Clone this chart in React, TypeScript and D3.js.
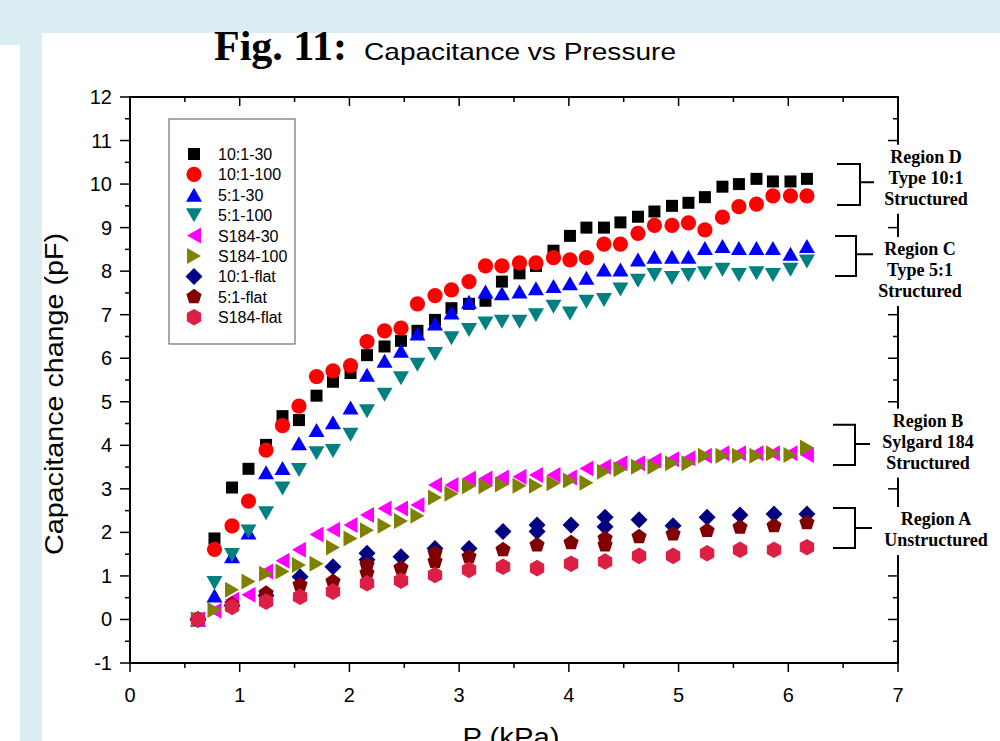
import React from 'react';
import * as d3 from 'd3';

// ---------- data ----------
const xPressure = [0.62, 0.77, 0.93, 1.08, 1.24, 1.39, 1.54, 1.70, 1.85, 2.01, 2.16, 2.32, 2.47, 2.62, 2.78, 2.93, 3.09, 3.24, 3.39, 3.55, 3.70, 3.86, 4.01, 4.16, 4.32, 4.47, 4.63, 4.78, 4.94, 5.09, 5.24, 5.40, 5.55, 5.71, 5.86, 6.02, 6.17];

const y10_1_30 = [0, 1.86, 3.03, 3.46, 4.01, 4.67, 4.58, 5.14, 5.46, 5.66, 6.07, 6.27, 6.40, 6.63, 6.88, 7.15, 7.25, 7.32, 7.76, 7.95, 8.12, 8.47, 8.81, 9.00, 9.00, 9.12, 9.25, 9.37, 9.50, 9.57, 9.70, 9.94, 10.0, 10.12, 10.06, 10.06, 10.12];
const y10_1_100 = [0, 1.61, 2.15, 2.72, 3.89, 4.45, 4.90, 5.58, 5.71, 5.83, 6.38, 6.63, 6.69, 7.25, 7.44, 7.57, 7.76, 8.12, 8.12, 8.19, 8.19, 8.31, 8.26, 8.31, 8.62, 8.62, 8.87, 9.05, 9.05, 9.11, 8.95, 9.24, 9.48, 9.54, 9.73, 9.73, 9.73];
const y5_1_30 = [0, 0.55, 1.45, 2.00, 3.38, 3.48, 4.05, 4.35, 4.53, 4.87, 5.62, 5.94, 6.17, 6.57, 6.80, 7.05, 7.30, 7.53, 7.49, 7.53, 7.61, 7.66, 7.72, 7.85, 8.04, 8.04, 8.27, 8.33, 8.33, 8.33, 8.53, 8.58, 8.53, 8.53, 8.53, 8.40, 8.58];
const y5_1_100 = [0, 0.84, 1.48, 2.02, 2.44, 3.01, 3.43, 3.82, 3.87, 4.24, 4.78, 5.16, 5.54, 5.85, 6.10, 6.46, 6.65, 6.80, 6.84, 6.84, 6.99, 7.18, 7.03, 7.30, 7.34, 7.58, 7.78, 7.91, 7.84, 7.91, 7.95, 8.03, 7.91, 7.95, 7.91, 8.03, 8.22];
const yS184_30 = [0, 0.20, 0.45, 0.57, 1.10, 1.35, 1.60, 1.95, 2.06, 2.17, 2.40, 2.55, 2.55, 2.63, 3.09, 3.09, 3.24, 3.24, 3.26, 3.28, 3.32, 3.32, 3.26, 3.47, 3.51, 3.59, 3.59, 3.65, 3.68, 3.70, 3.76, 3.82, 3.82, 3.82, 3.82, 3.82, 3.78];
const yS184_100 = [0, 0.22, 0.68, 0.87, 1.05, 1.10, 1.25, 1.28, 1.65, 1.86, 2.05, 2.15, 2.26, 2.38, 2.80, 2.89, 3.06, 3.06, 3.10, 3.07, 3.07, 3.13, 3.19, 3.14, 3.39, 3.45, 3.51, 3.51, 3.59, 3.59, 3.76, 3.76, 3.76, 3.76, 3.82, 3.78, 3.95];

const xFlat10 = [0.62, 0.93, 1.24, 1.55, 1.85, 2.16, 2.16, 2.47, 2.78, 3.09, 3.40, 3.71, 3.71, 4.02, 4.33, 4.33, 4.64, 4.95, 5.26, 5.56, 5.87, 6.17];
const yFlat10 = [0, 0.32, 0.55, 0.98, 1.21, 1.52, 1.37, 1.44, 1.63, 1.63, 2.02, 2.17, 2.02, 2.17, 2.35, 2.13, 2.29, 2.15, 2.35, 2.40, 2.42, 2.42];
const xFlat5 = [0.62, 0.93, 1.24, 1.55, 1.85, 2.16, 2.16, 2.47, 2.78, 2.78, 3.09, 3.40, 3.71, 4.02, 4.33, 4.33, 4.64, 4.95, 5.26, 5.56, 5.87, 6.17];
const yFlat5 = [0, 0.35, 0.60, 0.79, 0.87, 1.25, 1.06, 1.18, 1.52, 1.33, 1.44, 1.60, 1.71, 1.76, 1.86, 1.71, 1.90, 1.96, 2.04, 2.12, 2.15, 2.22];
const xFlatS = [0.62, 0.93, 1.24, 1.55, 1.85, 2.16, 2.47, 2.78, 3.09, 3.40, 3.71, 4.02, 4.33, 4.64, 4.95, 5.26, 5.56, 5.87, 6.17];
const yFlatS = [0, 0.29, 0.41, 0.52, 0.64, 0.83, 0.89, 1.02, 1.14, 1.21, 1.18, 1.28, 1.33, 1.46, 1.46, 1.52, 1.60, 1.60, 1.66];

const seriesLabels = ['10:1-30', '10:1-100', '5:1-30', '5:1-100', 'S184-30', 'S184-100', '10:1-flat', '5:1-flat', 'S184-flat'];
const seriesColors = ['#000000', '#ff0000', '#0000ff', '#008080', '#ff00ff', '#808000', '#000080', '#800000', '#dc1f45'];
const seriesShapes = ['square', 'circle', 'up', 'down', 'left', 'right', 'diamond', 'pentagon', 'hexagon'];

const xTicks = [0, 1, 2, 3, 4, 5, 6, 7];
const yTicks = [-1, 0, 1, 2, 3, 4, 5, 6, 7, 8, 9, 10, 11, 12];

const regionLines = [
  ['Region D', 'Type 10:1', 'Structured'],
  ['Region C', 'Type 5:1', 'Structured'],
  ['Region B', 'Sylgard 184', 'Structured'],
  ['Region A', 'Unstructured'],
];
const regionTop = [10.46, 8.81, 4.47, 2.56];
const regionBottom = [9.52, 7.89, 3.55, 1.64];
const regionMid = [10.04, 8.39, 4.03, 2.10];
const regionTextY = [10.49, 8.37, 4.43, 2.17];

// ---------- helpers ----------
function poly(n: number, r: number, rot: number) {
  const pts: string[] = [];
  for (let i = 0; i < n; i++) {
    const a = rot + (i * 2 * Math.PI) / n;
    pts.push(`${(r * Math.cos(a)).toFixed(2)},${(r * Math.sin(a)).toFixed(2)}`);
  }
  return 'M' + pts.join('L') + 'Z';
}

function shapePath(shape: string): string {
  switch (shape) {
    case 'square': return 'M-6,-6L6,-6L6,6L-6,6Z';
    case 'circle': return d3.symbol(d3.symbolCircle, Math.PI * 7.6 * 7.6)() as string;
    case 'up': return 'M0,-7L8,7L-8,7Z';
    case 'down': return 'M0,7L8,-7L-8,-7Z';
    case 'left': return 'M-7,0L7,-8L7,8Z';
    case 'right': return 'M7,0L-7,-8L-7,8Z';
    case 'diamond': return 'M0,-8.5L8.5,0L0,8.5L-8.5,0Z';
    case 'pentagon': return poly(5, 8, -Math.PI / 2);
    case 'hexagon': return poly(6, 8.3, -Math.PI / 2);
  }
  return '';
}

export default function App() {
  const W = 1000, H = 741;
  const left = 130, right = 898, top = 97, bottom = 663;
  const x = d3.scaleLinear().domain([0, 7]).range([left, right]);
  const y = d3.scaleLinear().domain([-1, 12]).range([bottom, top]);

  const seriesX = [xPressure, xPressure, xPressure, xPressure, xPressure, xPressure, xFlat10, xFlat5, xFlatS];
  const seriesY = [y10_1_30, y10_1_100, y5_1_30, y5_1_100, yS184_30, yS184_100, yFlat10, yFlat5, yFlatS];

  const xMinor = d3.range(0, 7.01, 0.5);
  const yMinor = d3.range(-1, 12.01, 0.5);
  const isMajor = (v: number) => Math.abs(v - Math.round(v)) < 1e-6;

  const sans = "'Liberation Sans', Arial, Helvetica, sans-serif";
  const serif = "'Liberation Serif', 'Times New Roman', serif";

  const legX = 169, legY = 119, legW = 126, legH = 225;
  const legRow0 = 154, legStep = 20.4;

  // [bracket left, bracket vertical, mid tick end, text centre, box left, box width]
  const bracketXs = [[837, 860, 874, 926, 878, 98], [835, 856, 873, 920, 876, 96], [833, 855, 870, 928, 876, 108], [833, 855, 872, 936, 877, 120]];

  return (
    <div style={{ position: 'absolute', left: 0, top: 0 }}>
      <svg width={W} height={H} xmlns="http://www.w3.org/2000/svg" style={{ display: 'block' }}>
        <rect x={0} y={0} width={W} height={H} fill="#dbecf3" />
        <rect x={42} y={33} width={W - 42} height={H - 33} fill="#ffffff" />
        <rect x={0} y={45} width={20} height={H - 45} fill="#ffffff" />

        {/* title */}
        <text x={214} y={60} fontFamily={serif} fontWeight="bold" fontSize={42} fill="#000">Fig. 11:</text>
        <text x={364} y={60} fontFamily={sans} fontSize={24} fill="#000" textLength={312} lengthAdjust="spacingAndGlyphs">Capacitance vs Pressure</text>

        {/* ticks */}
        <g stroke="#000" strokeWidth={1.5}>
          {xMinor.map((v, i) => {
            const len = isMajor(v) ? 9 : 5;
            return (
              <g key={'xt' + i}>
                <line x1={x(v)} x2={x(v)} y1={bottom} y2={bottom + len} />
                <line x1={x(v)} x2={x(v)} y1={top} y2={top + len} />
              </g>
            );
          })}
          {yMinor.map((v, i) => {
            const len = isMajor(v) ? 10 : 5;
            return (
              <g key={'yt' + i}>
                <line x1={left - len} x2={left} y1={y(v)} y2={y(v)} />
                <line x1={right - len} x2={right} y1={y(v)} y2={y(v)} />
              </g>
            );
          })}
        </g>

        {/* frame */}
        <rect x={left} y={top} width={right - left} height={bottom - top} fill="none" stroke="#000" strokeWidth={2} />

        {/* tick labels */}
        {xTicks.map((v) => (
          <text key={'xl' + v} x={x(v)} y={702} textAnchor="middle" fontFamily={sans} fontSize={20} fill="#000">{v}</text>
        ))}
        {yTicks.map((v) => (
          <text key={'yl' + v} x={112} y={y(v) + 7} textAnchor="end" fontFamily={sans} fontSize={20} fill="#000">{v}</text>
        ))}

        {/* axis titles */}
        <text x={511} y={746} textAnchor="middle" fontFamily={sans} fontSize={25} fill="#000" textLength={97} lengthAdjust="spacingAndGlyphs">P (kPa)</text>
        <text transform={`translate(63,394) rotate(-90)`} textAnchor="middle" fontFamily={sans} fontSize={25} fill="#000" textLength={322} lengthAdjust="spacingAndGlyphs">Capacitance change (pF)</text>

        {/* data */}
        {seriesLabels.map((lab, s) => (
          <g key={'s' + s} fill={seriesColors[s]}>
            {seriesX[s].map((xv, i) => (
              <path key={i} d={shapePath(seriesShapes[s])} transform={`translate(${x(xv)},${y(seriesY[s][i])})`} />
            ))}
          </g>
        ))}

        {/* legend */}
        <rect x={legX} y={legY} width={legW} height={legH} fill="#fff" stroke="#555" strokeWidth={1} />
        {seriesLabels.map((lab, s) => (
          <g key={'lg' + s}>
            <path d={shapePath(seriesShapes[s])} fill={seriesColors[s]} transform={`translate(194,${legRow0 + s * legStep})`} />
            <text x={218} y={legRow0 + s * legStep + 6} fontFamily={sans} fontSize={16} fill="#000">{lab}</text>
          </g>
        ))}

        {/* region annotations */}
        {regionLines.map((lines, r) => {
          const [bl, bv, bm, tx, boxX, boxW] = bracketXs[r];
          const t0 = y(regionTextY[r]);
          return (
            <g key={'rg' + r}>
              <rect x={boxX} y={t0 - 18} width={boxW} height={lines.length * 21 + 6} fill="#ffffff" />
              <path d={`M${bl},${y(regionTop[r])}L${bv},${y(regionTop[r])}L${bv},${y(regionBottom[r])}L${bl},${y(regionBottom[r])}M${bv},${y(regionMid[r])}L${bm},${y(regionMid[r])}`} fill="none" stroke="#000" strokeWidth={2} />
              {lines.map((t, k) => (
                <text key={k} x={tx} y={t0 + k * 21} textAnchor="middle" fontFamily={serif} fontWeight="bold" fontSize={18} fill="#000">{t}</text>
              ))}
            </g>
          );
        })}
      </svg>
    </div>
  );
}
